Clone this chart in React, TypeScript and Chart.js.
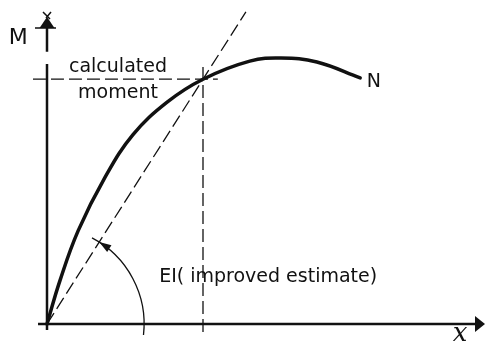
import React, { useEffect, useRef } from "react";
import { Chart, registerables } from "chart.js";

Chart.register(...registerables);

// M–x curve (arbitrary units)
const curveX = [0, 0.33, 0.8, 1.49, 2.2, 3.08, 4.0, 5.2, 6.0, 6.92, 8.03];
const curveY = [0, 1.41, 3.05, 4.8, 6.18, 7.25, 8.0, 8.59, 8.69, 8.56, 8.04];

// secant stiffness line EI (through origin and the calculated point)
const secantX = [0, 5.1];
const secantY = [0, 10.2];

// construction lines through the calculated point (4, 8)
const verticalX = [4, 4];
const verticalY = [-0.26, 8.46];
const horizontalX = [-0.36, 4.38];
const horizontalY = [8, 8];

const INK = "#111";
const FONT = '"DejaVu Sans", sans-serif';

const annotations = [
  { text: "M", x: -0.74, y: 9.15, align: "center", font: `22px ${FONT}` },
  { text: "calculated", x: 1.82, y: 8.24, align: "center", font: `19px ${FONT}` },
  { text: "moment", x: 1.82, y: 7.39, align: "center", font: `19px ${FONT}` },
  { text: "N", x: 8.2, y: 7.75, align: "left", font: `19px ${FONT}` },
  { text: "EI( improved estimate)", x: 5.67, y: 1.37, align: "center", font: `19px ${FONT}` },
  { text: "x", x: 10.59, y: -0.56, align: "center", font: `italic 26px "DejaVu Serif", serif` },
];

const toPts = (xs: number[], ys: number[]) => xs.map((v, i) => ({ x: v, y: ys[i] }));

const diagramPlugin = {
  id: "diagram",
  afterDatasetsDraw(chart: any) {
    const { ctx } = chart;
    const xs = chart.scales.x;
    const ys = chart.scales.y;
    const px = (v: number) => xs.getPixelForValue(v);
    const py = (v: number) => ys.getPixelForValue(v);
    const ox = px(0);
    const oy = py(0);
    ctx.save();
    ctx.strokeStyle = INK;
    ctx.fillStyle = INK;
    ctx.lineCap = "butt";

    // x axis
    ctx.lineWidth = 2.5;
    ctx.beginPath();
    ctx.moveTo(px(-0.23), oy);
    ctx.lineTo(px(11.0), oy);
    ctx.stroke();
    const xt = px(11.23);
    ctx.beginPath();
    ctx.moveTo(xt, oy);
    ctx.lineTo(xt - 10, oy - 8);
    ctx.lineTo(xt - 10, oy + 8);
    ctx.closePath();
    ctx.fill();

    // y axis
    ctx.beginPath();
    ctx.moveTo(ox, py(-0.2));
    ctx.lineTo(ox, py(8.5));
    ctx.moveTo(ox, py(8.9));
    ctx.lineTo(ox, py(9.7));
    ctx.stroke();
    const yt = py(10.03);
    ctx.beginPath();
    ctx.moveTo(ox, yt);
    ctx.lineTo(ox - 7.5, yt + 11);
    ctx.lineTo(ox + 7.5, yt + 11);
    ctx.closePath();
    ctx.fill();
    ctx.lineWidth = 1.5;
    ctx.beginPath();
    ctx.moveTo(ox - 12, yt + 11);
    ctx.lineTo(ox + 9, yt + 11);
    ctx.moveTo(ox - 4, yt - 5);
    ctx.lineTo(ox + 3, yt + 2);
    ctx.moveTo(ox + 4, yt - 5);
    ctx.lineTo(ox - 1, yt + 1);
    ctx.stroke();

    // angle arc with arrow
    const unit = px(1) - px(0);
    const r = 2.49 * unit;
    ctx.lineWidth = 1.3;
    ctx.beginPath();
    ctx.arc(ox, oy, r, 0.113, -1.089, true);
    ctx.stroke();
    const th = Math.atan2(py(secantY[1]) - oy, px(secantX[1]) - ox);
    const tx = ox + r * Math.cos(th);
    const ty = oy + r * Math.sin(th);
    const dx = Math.sin(th);
    const dy = -Math.cos(th);
    const bx = tx - dx * 12;
    const by = ty - dy * 12;
    ctx.beginPath();
    ctx.moveTo(tx, ty);
    ctx.lineTo(bx - dy * 4, by + dx * 4);
    ctx.lineTo(bx + dy * 4, by - dx * 4);
    ctx.closePath();
    ctx.fill();

    // texts
    ctx.textBaseline = "alphabetic";
    for (const a of annotations) {
      ctx.font = a.font;
      ctx.textAlign = a.align;
      ctx.fillText(a.text, px(a.x), py(a.y));
    }
    ctx.restore();
  },
};

export default function App() {
  const ref = useRef<HTMLCanvasElement>(null);
  useEffect(() => {
    document.body.style.margin = "0";
    const canvas = ref.current!;
    const dash = [13, 5];
    const chart = new Chart(canvas, {
      type: "scatter",
      data: {
        datasets: [
          {
            data: toPts(curveX, curveY),
            showLine: true,
            borderColor: INK,
            borderWidth: 3.5,
            pointRadius: 0,
            tension: 0.4,
            borderCapStyle: "round",
            clip: false,
          } as any,
          {
            data: toPts(secantX, secantY),
            showLine: true,
            borderColor: INK,
            borderWidth: 1.3,
            borderDash: dash,
            pointRadius: 0,
            clip: false,
          } as any,
          {
            data: toPts(verticalX, verticalY),
            showLine: true,
            borderColor: INK,
            borderWidth: 1.3,
            borderDash: dash,
            pointRadius: 0,
            clip: false,
          } as any,
          {
            data: toPts(horizontalX, horizontalY),
            showLine: true,
            borderColor: INK,
            borderWidth: 1.3,
            borderDash: dash,
            pointRadius: 0,
            clip: false,
          } as any,
        ],
      },
      options: {
        responsive: false,
        animation: false,
        layout: { padding: { left: 47, right: 9, top: 18, bottom: 19 } },
        scales: {
          x: { type: "linear", min: 0, max: 11, display: false },
          y: { type: "linear", min: 0, max: 10, display: false },
        },
        plugins: { legend: { display: false }, tooltip: { enabled: false } },
      },
      plugins: [diagramPlugin],
    });
    return () => chart.destroy();
  }, []);
  return (
    <div style={{ width: 485, height: 343, background: "#fff" }}>
      <canvas ref={ref} width={485} height={343} style={{ display: "block" }} />
    </div>
  );
}
